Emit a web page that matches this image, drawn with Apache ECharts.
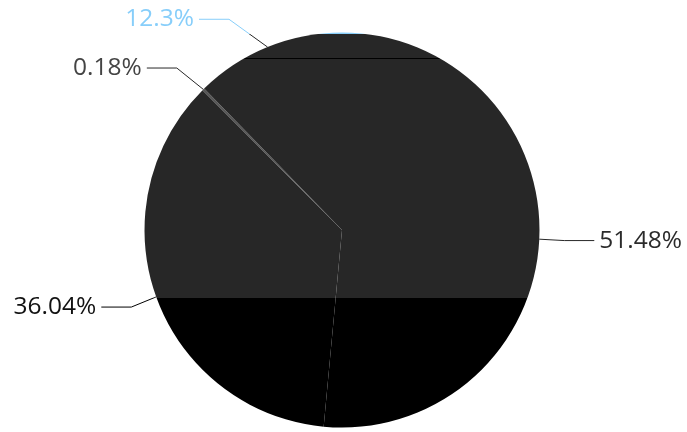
<!DOCTYPE html>
<html><head><meta charset="utf-8">
<script src="https://cdn.jsdelivr.net/npm/echarts@6/dist/echarts.min.js"></script>
<style>html,body{margin:0;padding:0;background:#fff}#c{width:687px;height:432px}</style>
</head><body><div id="c"></div>
<script>
// Data
const categories = ['Slice A', 'Slice B', 'Slice C', 'Slice D'];
const shares = [51.48, 36.04, 0.18, 12.3];
const labelColors = ['#2b2b2b', '#111111', '#444444', '#87cefa'];

// Geometry / style
const H = 432;
const CX = 342, CY = 230, RADIUS = 197.5;
const LEN1 = 30, LEN2 = 30, LABEL_GAP = 5;

const fill = {
  type: 'linear', x: 0, y: 0, x2: 0, y2: H, global: true,
  colorStops: [
    {offset: 0, color: '#87cefa'}, {offset: 33.6 / H, color: '#87cefa'},
    {offset: 33.6 / H, color: '#272727'}, {offset: 57.7 / H, color: '#272727'},
    {offset: 57.7 / H, color: '#000000'}, {offset: 59.1 / H, color: '#000000'},
    {offset: 59.1 / H, color: '#272727'}, {offset: 298 / H, color: '#272727'},
    {offset: 298 / H, color: '#000000'}, {offset: 1, color: '#000000'}
  ]
};
const thinSliceColor = '#555555';

// Classic label placement: label ends sit on a circle of radius r + len + len2
function classicLabelLayout(params) {
  const pts = params.labelLinePoints;
  if (!pts || pts.length < 3) return {};
  const p0 = pts[0], p1 = pts[1], p2 = pts[2];
  const dir = p2[0] < CX ? -1 : 1;
  const y = p1[1];
  const dy = Math.abs(y - CY);
  const R = RADIUS + LEN1 + LEN2;
  const dX = dy < RADIUS + LEN1 ? Math.sqrt(R * R - dy * dy) : Math.abs(p2[0] - CX);
  const textX = CX + dir * dX;
  const endX = textX - dir * LABEL_GAP;
  const bendX = endX - dir * LEN2;
  return {
    x: textX, y: y,
    align: dir < 0 ? 'right' : 'left',
    verticalAlign: 'middle',
    labelLinePoints: [p0, [bendX, y], [endX, y]]
  };
}

const chart = echarts.init(document.getElementById('c'));
chart.setOption({
  animation: false,
  backgroundColor: '#ffffff',
  series: [{
    type: 'pie',
    center: [CX, CY],
    radius: RADIUS,
    startAngle: 90,
    clockwise: true,
    avoidLabelOverlap: true,
    itemStyle: {color: fill, borderWidth: 0},
    label: {
      show: true, position: 'outside', overflow: 'none',
      fontFamily: 'Open Sans', fontSize: 24.5,
      formatter: p => p.value + '%'
    },
    labelLine: {show: true, length: LEN1, length2: LEN2, lineStyle: {color: fill, width: 1}},
    labelLayout: classicLabelLayout,
    emphasis: {disabled: true},
    data: categories.map((n, i) => {
      const item = {name: n, value: shares[i], label: {color: labelColors[i]}};
      if (shares[i] < 1) item.itemStyle = {color: thinSliceColor};
      return item;
    })
  }]
});
</script>
</body></html>
